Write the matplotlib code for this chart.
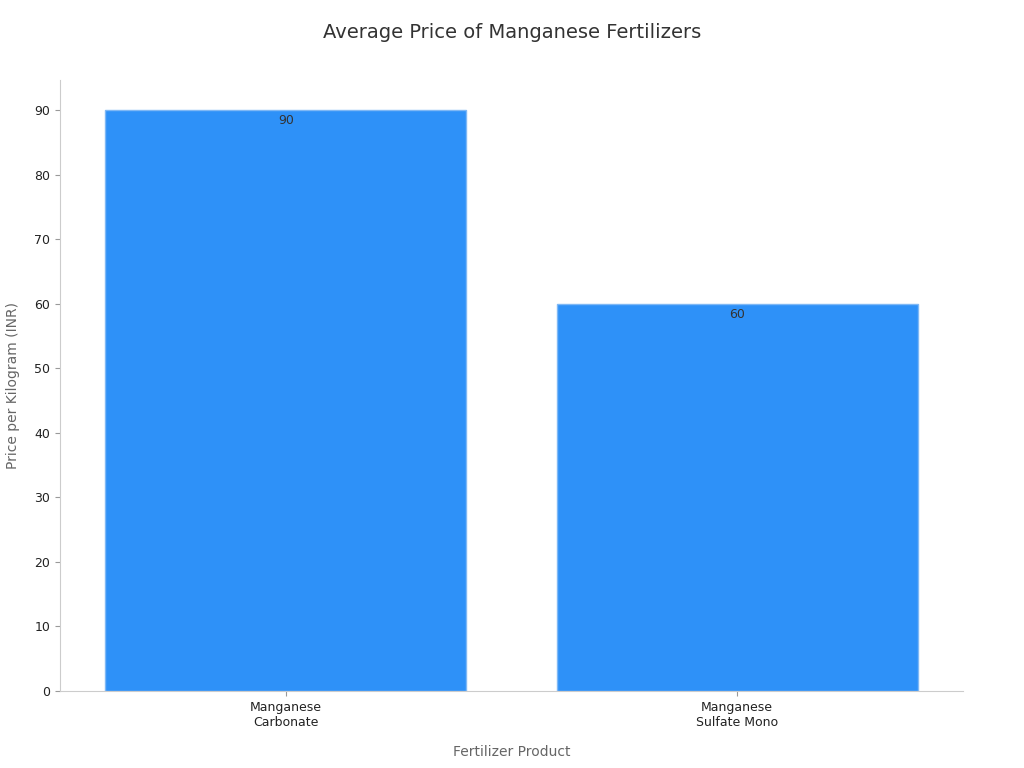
import matplotlib
matplotlib.use("Agg")
import matplotlib.pyplot as plt

categories = ["Manganese\nCarbonate", "Manganese\nSulfate Mono"]
prices = [90, 60]
yticks = [0, 10, 20, 30, 40, 50, 60, 70, 80, 90]

fig = plt.figure(figsize=(10.24, 7.68), dpi=100)
ax = fig.add_axes([0.0586, 0.1003, 0.8818, 0.7955])
x = list(range(len(categories)))
bars = ax.bar(x, prices, width=0.8, color="#2E91F8", edgecolor="#7FB8F5", linewidth=1)
for xi, v in zip(x, prices):
    ax.text(xi, v - 0.6, str(v), ha="center", va="top", fontsize=9, color="#333333")
ax.set_xlim(-0.5, 1.5)
ax.set_ylim(0, 94.7)
ax.set_xticks(x)
ax.set_xticklabels(categories, fontsize=9, color="#222222")
ax.set_yticks(yticks)
ax.tick_params(axis="y", labelsize=9, colors="#222222")
ax.tick_params(axis="both", color="#999999")
for s in ["top", "right"]:
    ax.spines[s].set_visible(False)
for s in ["left", "bottom"]:
    ax.spines[s].set_color("#cccccc")
ax.set_xlabel("Fertilizer Product", fontsize=10, color="#666666", labelpad=12)
ax.set_ylabel("Price per Kilogram (INR)", fontsize=10, color="#666666", labelpad=10)
fig.suptitle("Average Price of Manganese Fertilizers", fontsize=14, color="#333333", y=0.97)
fig.savefig("out.png", dpi=100)
